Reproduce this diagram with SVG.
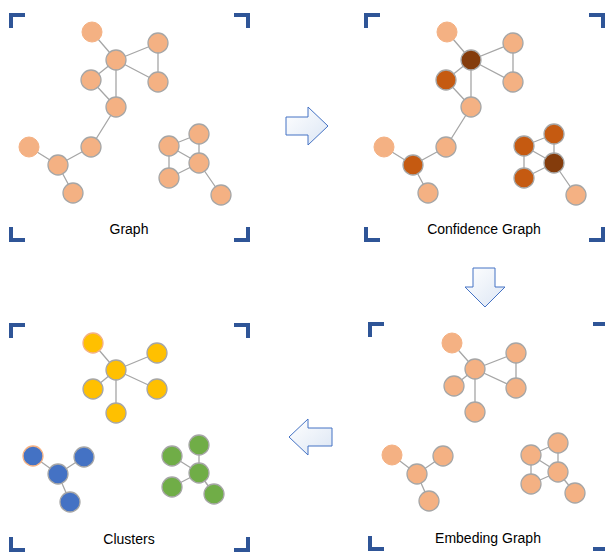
<svg xmlns="http://www.w3.org/2000/svg" width="605" height="552" viewBox="0 0 605 552">
<defs>
<linearGradient id="gr" x1="0" y1="0" x2="1" y2="1">
<stop offset="0" stop-color="#ffffff"/>
<stop offset="1" stop-color="#dce6f4"/>
</linearGradient>
<linearGradient id="gd" x1="0" y1="0" x2="1" y2="1">
<stop offset="0" stop-color="#ffffff"/>
<stop offset="1" stop-color="#dce6f4"/>
</linearGradient>
<style>
.br{fill:none;stroke:#2F5597;stroke-width:4}
.e{stroke:#A6A6A6;stroke-width:1.3;fill:none}
.n{fill:#F4B183;stroke:#A6A6A6;stroke-width:1.3}
.l{fill:#F4B183;stroke:#F4B183;stroke-width:1}
.o{fill:#C55A11;stroke:#A6A6A6;stroke-width:1.3}
.d{fill:#843C0C;stroke:#A6A6A6;stroke-width:1.3}
.y{fill:#FFC000;stroke:#A6A6A6;stroke-width:1.3}
.yl{fill:#FFC000;stroke:#F4B183;stroke-width:1.3}
.b{fill:#4472C4;stroke:#A6A6A6;stroke-width:1.3}
.bl{fill:#4472C4;stroke:#F4B183;stroke-width:1.3}
.g{fill:#70AD47;stroke:#A6A6A6;stroke-width:1.3}
.t{font-family:"Liberation Sans",Arial,sans-serif;font-size:14px;fill:#000;text-anchor:middle}
.ar{stroke:#4472C4;stroke-width:1;stroke-linejoin:miter}
</style>
</defs>
<rect width="605" height="552" fill="#ffffff"/>

<g id="brackets">
<path class="br" d="M11,28 V15 H25 M234,15 H248 V28 M11,227 V240 H25 M234,240 H248 V227"/>
<path class="br" d="M366,28 V15 H380 M589,15 H603 V28 M366,227 V240 H380 M589,240 H603 V227"/>
<path class="br" d="M11,338 V325 H25 M234,325 H248 V338 M11,537 V550 H25 M234,550 H248 V537"/>
<path class="br" d="M370,337 V324 H384 M593,324 H607 V337 M370,536 V549 H384 M593,549 H607 V536"/>
</g>

<g id="connectors">
<!-- panel 1 -->
<path class="e" d="M92,32 L116,60 M116,60 L158,43 M116,60 L158,82 M158,43 L158,82 M116,60 L91,80 M116,60 L116,107 M91,80 L116,107 M116,107 L91,147 M91,147 L58,165 M29,147 L58,165 M58,165 L73,193 M169,146 L199,134 M169,146 L199,163 M169,146 L169,178 M199,134 L199,163 M199,163 L169,178 M199,163 L221,195"/>
<!-- panel 2 -->
<path class="e" d="M447,32 L471,60 M471,60 L513,43 M471,60 L513,82 M513,43 L513,82 M471,60 L446,80 M471,60 L471,107 M446,80 L471,107 M471,107 L446,147 M446,147 L413,165 M384,147 L413,165 M413,165 L428,193 M524,146 L554,134 M524,146 L554,163 M524,146 L524,178 M554,134 L554,163 M554,163 L524,178 M554,163 L576,195"/>
<!-- panel 3 -->
<path class="e" d="M93,343 L116,370 M116,370 L157,353 M116,370 L157,389 M116,370 L93,389 M116,370 L116,413 M33,456 L58,474 M58,474 L84,457 M58,474 L70,502 M199,473 L172,456 M199,473 L199,445 M199,473 L172,487 M199,473 L214,494"/>
<!-- panel 4 -->
<path class="e" d="M452,343 L475,369 M475,369 L516,353 M475,369 L516,388 M516,353 L516,388 M475,369 L454,386 M475,369 L475,412 M392,455 L417,474 M417,474 L443,456 M417,474 L429,501 M531,455 L558,443 M531,455 L558,472 M531,455 L531,484 M558,443 L558,472 M558,472 L531,484 M558,472 L575,493"/>
</g>

<g id="arrows">
<polygon class="ar" fill="url(#gr)" points="286,117 308,117 308,107 328,126 308,145 308,135 286,135"/>
<polygon class="ar" fill="url(#gd)" points="473,268 495,268 495,287 505,287 485,307 465,287 473,287"/>
<polygon class="ar" fill="url(#gr)" points="332,428 308,428 308,419 289,437 308,455 308,446 332,446"/>
</g>

<g id="panel-graph">
<g id="g1-a"><circle class="l" cx="92" cy="32" r="10"/></g>
<g id="g1-b"><circle class="n" cx="116" cy="60" r="10"/></g>
<g id="g1-c"><circle class="n" cx="158" cy="43" r="10"/></g>
<g id="g1-d"><circle class="n" cx="158" cy="82" r="10"/></g>
<g id="g1-e"><circle class="n" cx="91" cy="80" r="10"/></g>
<g id="g1-f"><circle class="n" cx="116" cy="107" r="10"/></g>
<g id="g1-g"><circle class="n" cx="91" cy="147" r="10"/></g>
<g id="g1-h"><circle class="l" cx="29" cy="147" r="10"/></g>
<g id="g1-i"><circle class="n" cx="58" cy="165" r="10"/></g>
<g id="g1-j"><circle class="n" cx="73" cy="193" r="10"/></g>
<g id="g1-k"><circle class="n" cx="169" cy="146" r="10"/></g>
<g id="g1-l"><circle class="n" cx="199" cy="134" r="10"/></g>
<g id="g1-m"><circle class="n" cx="199" cy="163" r="10"/></g>
<g id="g1-n"><circle class="n" cx="169" cy="178" r="10"/></g>
<g id="g1-o"><circle class="n" cx="221" cy="195" r="10"/></g>
<text class="t" x="129" y="234">Graph</text>
</g>

<g id="panel-confidence">
<g id="g2-a"><circle class="l" cx="447" cy="32" r="10"/></g>
<g id="g2-b"><circle class="d" cx="471" cy="60" r="10"/></g>
<g id="g2-c"><circle class="n" cx="513" cy="43" r="10"/></g>
<g id="g2-d"><circle class="n" cx="513" cy="82" r="10"/></g>
<g id="g2-e"><circle class="o" cx="446" cy="80" r="10"/></g>
<g id="g2-f"><circle class="n" cx="471" cy="107" r="10"/></g>
<g id="g2-g"><circle class="n" cx="446" cy="147" r="10"/></g>
<g id="g2-h"><circle class="l" cx="384" cy="147" r="10"/></g>
<g id="g2-i"><circle class="o" cx="413" cy="165" r="10"/></g>
<g id="g2-j"><circle class="n" cx="428" cy="193" r="10"/></g>
<g id="g2-k"><circle class="o" cx="524" cy="146" r="10"/></g>
<g id="g2-l"><circle class="o" cx="554" cy="134" r="10"/></g>
<g id="g2-m"><circle class="d" cx="554" cy="163" r="10"/></g>
<g id="g2-n"><circle class="o" cx="524" cy="178" r="10"/></g>
<g id="g2-o"><circle class="n" cx="576" cy="195" r="10"/></g>
<text class="t" x="484" y="234">Confidence Graph</text>
</g>

<g id="panel-clusters">
<g id="g3-a"><circle class="yl" cx="93" cy="343" r="10"/></g>
<g id="g3-b"><circle class="y" cx="116" cy="370" r="10"/></g>
<g id="g3-c"><circle class="y" cx="157" cy="353" r="10"/></g>
<g id="g3-d"><circle class="y" cx="157" cy="389" r="10"/></g>
<g id="g3-e"><circle class="y" cx="93" cy="389" r="10"/></g>
<g id="g3-f"><circle class="y" cx="116" cy="413" r="10"/></g>
<g id="g3-h"><circle class="bl" cx="33" cy="456" r="10"/></g>
<g id="g3-i"><circle class="b" cx="58" cy="474" r="10"/></g>
<g id="g3-j"><circle class="b" cx="84" cy="457" r="10"/></g>
<g id="g3-k"><circle class="b" cx="70" cy="502" r="10"/></g>
<g id="g3-p"><circle class="g" cx="172" cy="456" r="10"/></g>
<g id="g3-q"><circle class="g" cx="199" cy="445" r="10"/></g>
<g id="g3-r"><circle class="g" cx="199" cy="473" r="10"/></g>
<g id="g3-s"><circle class="g" cx="172" cy="487" r="10"/></g>
<g id="g3-u"><circle class="g" cx="214" cy="494" r="10"/></g>
<text class="t" x="129" y="544">Clusters</text>
</g>

<g id="panel-embedding">
<g id="g4-a"><circle class="l" cx="452" cy="343" r="10"/></g>
<g id="g4-b"><circle class="n" cx="475" cy="369" r="10"/></g>
<g id="g4-c"><circle class="n" cx="516" cy="353" r="10"/></g>
<g id="g4-d"><circle class="n" cx="516" cy="388" r="10"/></g>
<g id="g4-e"><circle class="n" cx="454" cy="386" r="10"/></g>
<g id="g4-f"><circle class="n" cx="475" cy="412" r="10"/></g>
<g id="g4-h"><circle class="l" cx="392" cy="455" r="10"/></g>
<g id="g4-i"><circle class="n" cx="417" cy="474" r="10"/></g>
<g id="g4-j"><circle class="n" cx="443" cy="456" r="10"/></g>
<g id="g4-k"><circle class="n" cx="429" cy="501" r="10"/></g>
<g id="g4-p"><circle class="n" cx="531" cy="455" r="10"/></g>
<g id="g4-q"><circle class="n" cx="558" cy="443" r="10"/></g>
<g id="g4-r"><circle class="n" cx="558" cy="472" r="10"/></g>
<g id="g4-s"><circle class="n" cx="531" cy="484" r="10"/></g>
<g id="g4-u"><circle class="n" cx="575" cy="493" r="10"/></g>
<text class="t" x="488" y="543">Embeding Graph</text>
</g>
</svg>
